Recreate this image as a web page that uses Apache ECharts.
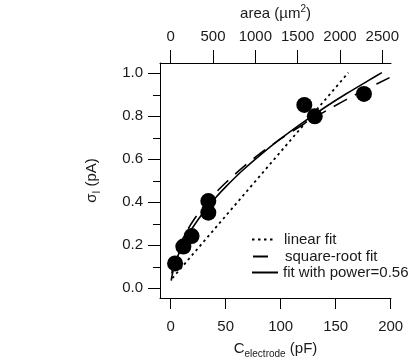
<!DOCTYPE html>
<html>
<head>
<meta charset="utf-8">
<script src="https://cdn.jsdelivr.net/npm/echarts@6/dist/echarts.min.js"></script>
<style>
html,body{margin:0;padding:0;background:#fff;}
#chart{width:408px;height:358px;}
</style>
</head>
<body>
<div id="chart"></div>
<script>
// Measured points: electrode capacitance (pF) vs sigma_I (pA)
var pointC = [4, 11.5, 19, 34.2, 34.2, 121.5, 131, 175.7];
var pointS = [0.116, 0.194, 0.243, 0.352, 0.406, 0.853, 0.800, 0.904];

// Linear fit
var linearC = [1.5, 161.5];
var linearS = [0.047, 1.003];

// Square-root fit
var sqrtC = [1, 3, 6, 10, 15, 20, 30, 40, 50, 65, 80, 100, 120, 140, 160, 180, 199];
var sqrtS = [0.070, 0.120, 0.170, 0.220, 0.269, 0.311, 0.381, 0.440, 0.491, 0.560, 0.622, 0.695, 0.761, 0.822, 0.879, 0.932, 0.980];

// Power fit, exponent 0.56
var powC = [0.5, 1, 3, 6, 10, 15, 20, 30, 40, 50, 65, 80, 100, 120, 140, 160, 180, 192];
var powS = [0.036, 0.053, 0.098, 0.144, 0.192, 0.241, 0.283, 0.355, 0.417, 0.472, 0.547, 0.614, 0.696, 0.771, 0.841, 0.906, 0.967, 1.003];

// Tick labels
var bottomTicks = [0, 50, 100, 150, 200];
var topTicks = [0, 500, 1000, 1500, 2000, 2500];
var leftTicks = [0, 0.2, 0.4, 0.6, 0.8, 1.0];
var leftMinorTicks = [0.1, 0.3, 0.5, 0.7, 0.9];

var seriesNames = ['linear fit', 'square-root fit', 'fit with power=0.56'];

function pairs(xs, ys) { return xs.map(function (x, i) { return [x, ys[i]]; }); }

var FONT = 'Liberation Sans, Arial, sans-serif';
var TXT = '#1a1a1a';
var chart = echarts.init(document.getElementById('chart'), null, {renderer: 'canvas'});

var axisLineStyle = {show: true, onZero: false, lineStyle: {color: '#000', width: 1}};
var legendIconStyle = {opacity: 0, color: 'transparent', borderWidth: 0};

chart.setOption({
  animation: false,
  backgroundColor: '#fff',
  grid: {left: 160, top: 63, right: 17, bottom: 60, containLabel: false, outerBoundsMode: 'none'},
  xAxis: [
    {
      type: 'value', position: 'bottom', min: -9.73, max: 200.3,
      axisLine: axisLineStyle,
      axisTick: {show: true, inside: false, length: 11, customValues: bottomTicks, lineStyle: {color: '#000', width: 1}},
      axisLabel: {customValues: bottomTicks, margin: 21, fontSize: 15, color: TXT, fontFamily: FONT,
        formatter: function (v) { return String(Math.round(v)); }},
      splitLine: {show: false},
      name: '{a|C}{b|electrode}{a| (pF)}',
      nameLocation: 'middle', nameGap: 40,
      nameTextStyle: {
        fontFamily: FONT, color: TXT,
        rich: {
          a: {fontSize: 15, fontFamily: FONT, color: TXT, lineHeight: 20},
          b: {fontSize: 10, fontFamily: FONT, color: TXT, padding: [10, 0, 0, 0], lineHeight: 20}
        }
      }
    },
    {
      type: 'value', position: 'top', min: -126.4, max: 2602.8,
      axisLine: axisLineStyle,
      axisTick: {show: true, inside: false, length: 13, customValues: topTicks, lineStyle: {color: '#000', width: 1}},
      axisLabel: {customValues: topTicks, margin: 19, fontSize: 15, color: TXT, fontFamily: FONT,
        formatter: function (v) { return String(Math.round(v)); }},
      splitLine: {show: false},
      name: '{a|area (µm}{s|2}{a|)}',
      nameLocation: 'middle', nameGap: 34,
      nameTextStyle: {
        fontFamily: FONT, color: TXT,
        rich: {
          a: {fontSize: 15, fontFamily: FONT, color: TXT, lineHeight: 20},
          s: {fontSize: 10, fontFamily: FONT, color: TXT, padding: [0, 0, 10, 0], lineHeight: 20}
        }
      }
    }
  ],
  yAxis: [
    {
      type: 'value', position: 'left', min: -0.045, max: 1.048,
      axisLine: axisLineStyle,
      axisTick: {show: true, inside: false, length: 12, customValues: leftTicks, lineStyle: {color: '#000', width: 1}},
      axisLabel: {customValues: leftTicks, margin: 17, fontSize: 15, color: TXT, fontFamily: FONT,
        formatter: function (v) { return Number(v).toFixed(1); }},
      splitLine: {show: false},
      name: '{a|σ}{b|I}{a| (pA)}',
      nameLocation: 'middle', nameGap: 58, nameRotate: 90,
      nameTextStyle: {
        fontFamily: FONT, color: TXT,
        rich: {
          a: {fontSize: 15, fontFamily: FONT, color: TXT, lineHeight: 20},
          b: {fontSize: 10, fontFamily: FONT, color: TXT, padding: [10, 0, 0, 0], lineHeight: 20}
        }
      }
    },
    {
      type: 'value', position: 'left', min: -0.045, max: 1.048,
      axisLine: {show: false, onZero: false},
      axisTick: {show: true, inside: false, length: 7, customValues: leftMinorTicks, lineStyle: {color: '#000', width: 1}},
      axisLabel: {show: false},
      splitLine: {show: false}
    }
  ],
  legend: [
    {data: [seriesNames[0]], left: 251, top: 232, padding: 0, itemWidth: 21, itemHeight: 14,
      itemStyle: legendIconStyle,
      textStyle: {fontSize: 15, color: TXT, fontFamily: FONT, padding: [0, 0, 0, 6]}},
    {data: [seriesNames[1]], left: 252, top: 249, padding: 0, itemWidth: 15, itemHeight: 14,
      itemStyle: legendIconStyle,
      textStyle: {fontSize: 15, color: TXT, fontFamily: FONT, padding: [0, 0, 0, 12]}},
    {data: [seriesNames[2]], left: 251, top: 265, padding: 0, itemWidth: 26, itemHeight: 14,
      itemStyle: legendIconStyle,
      textStyle: {fontSize: 15, color: TXT, fontFamily: FONT, padding: [0, 0, 0, 0]}}
  ],
  series: [
    {
      name: seriesNames[0], type: 'line', xAxisIndex: 0, yAxisIndex: 0,
      data: pairs(linearC, linearS), showSymbol: false, symbol: 'none',
      lineStyle: {color: '#000', width: 1.8, type: [2.5, 3.5]}, itemStyle: {color: '#000'}, z: 2
    },
    {
      name: seriesNames[1], type: 'line', xAxisIndex: 0, yAxisIndex: 0,
      data: pairs(sqrtC, sqrtS), showSymbol: false, symbol: 'none', smooth: 0.3,
      lineStyle: {color: '#000', width: 1.6, type: [15, 9]}, itemStyle: {color: '#000'}, z: 2
    },
    {
      name: seriesNames[2], type: 'line', xAxisIndex: 0, yAxisIndex: 0,
      data: pairs(powC, powS), showSymbol: false, symbol: 'none', smooth: 0.3,
      lineStyle: {color: '#000', width: 1.6, type: 'solid'}, itemStyle: {color: '#000'}, z: 2
    },
    {
      name: 'data', type: 'scatter', xAxisIndex: 0, yAxisIndex: 0,
      data: pairs(pointC, pointS), symbol: 'circle', symbolSize: 16,
      itemStyle: {color: '#000', opacity: 1}, z: 3
    }
  ]
});
</script>
</body>
</html>
